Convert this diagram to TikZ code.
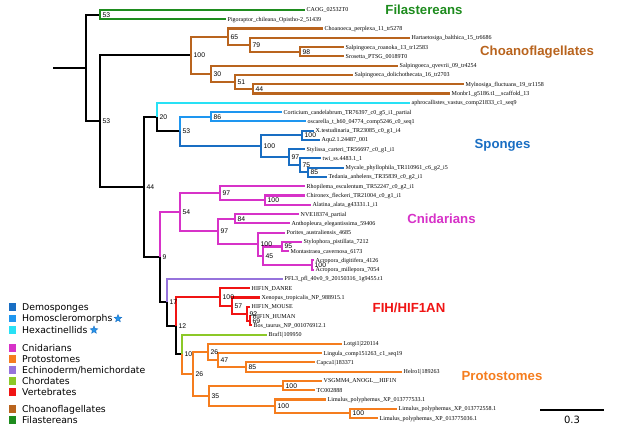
\documentclass[tikz,border=0pt]{standalone}
\usepackage{fontspec}
\setmainfont{Liberation Serif}
\newfontfamily\lsans{Liberation Sans}
\newfontfamily\dsans{DejaVu Sans}
\usetikzlibrary{shapes.geometric}
\definecolor{cFil}{RGB}{30,140,30}
\definecolor{cCho}{RGB}{185,100,30}
\definecolor{cHex}{RGB}{40,225,245}
\definecolor{cHom}{RGB}{30,150,240}
\definecolor{cDem}{RGB}{25,110,195}
\definecolor{cCni}{RGB}{215,50,200}
\definecolor{cEch}{RGB}{150,115,220}
\definecolor{cChd}{RGB}{140,200,40}
\definecolor{cVer}{RGB}{240,20,20}
\definecolor{cPro}{RGB}{245,125,30}
\definecolor{cStar}{RGB}{40,150,235}
\begin{document}
\begin{tikzpicture}[x=1pt,y=-1pt,
 br/.style={line width=2.1pt},
 tip/.style={anchor=west,inner sep=1.5pt,font=\fontsize{6}{6}\selectfont,text height=4pt,text depth=0pt},
 bslabel/.style={anchor=west,inner sep=1pt,font=\lsans\fontsize{6.8}{6.8}\selectfont,text height=4.9pt,text depth=0pt,xshift=1.5pt},
 clade/.style={font=\lsans\bfseries\fontsize{13.2}{13.2}\selectfont,inner sep=0pt,text height=9.5pt,text depth=0pt},
 lgbox/.style={minimum size=7.5pt,inner sep=0pt},
 lgtext/.style={anchor=west,inner sep=0pt,font=\dsans\fontsize{9.3}{9.3}\selectfont,text height=6.8pt,text depth=0pt},
 lgstar/.style={star,star points=5,star point ratio=2.3,minimum size=8pt,inner sep=0pt,fill=cStar,draw=cDem,line width=0.4pt},
]
\useasboundingbox (0,0) rectangle (617,436);
\fill[white] (0,0) rectangle (617,436);
% ---------- internal nodes ----------
\coordinate (rs) at (53,67.91);
\coordinate (root) at (86,67.91);
\coordinate (nF) at (100,14.64);
\coordinate (n53) at (100,121.18);
\coordinate (nC100) at (191,55.2);
\coordinate (nC65) at (228,36.66);
\coordinate (nC79) at (250,44.77);
\coordinate (nC98) at (300,51.73);
\coordinate (nC30) at (211,73.75);
\coordinate (nC51) at (235,81.86);
\coordinate (nC44) at (253,88.82);
\coordinate (n44) at (144,187.16);
\coordinate (n20) at (157,117.07);
\coordinate (nS53) at (180,131.42);
\coordinate (nS86) at (211,116.64);
\coordinate (nS100) at (261,146.19);
\coordinate (nS100b) at (302,135.18);
\coordinate (nS97) at (289,157.2);
\coordinate (nS75) at (300,165.32);
\coordinate (nS85) at (308,172.27);
\coordinate (n9) at (160,257.26);
\coordinate (nN54) at (180,212.27);
\coordinate (nN97m) at (220,193.14);
\coordinate (nN100m) at (265,200.09);
\coordinate (nN97a) at (218,231.39);
\coordinate (nN84) at (235,218.64);
\coordinate (nN100a) at (258,244.14);
\coordinate (nN45) at (263,255.73);
\coordinate (nN95) at (282,246.45);
\coordinate (nN100c) at (312,265);
\coordinate (n17) at (167,302.24);
\coordinate (n12) at (176,325.57);
\coordinate (nV100) at (220,296.88);
\coordinate (nV57) at (232,305.57);
\coordinate (nV92) at (247,313.68);
\coordinate (nV69) at (250,320.64);
\coordinate (n10) at (182,354.25);
\coordinate (nP26l) at (193,373.95);
\coordinate (nP26u) at (208,351.93);
\coordinate (nP47) at (218,360.05);
\coordinate (nP85) at (246,367);
\coordinate (nP35) at (209,395.98);
\coordinate (nP100a) at (283,385.55);
\coordinate (nP100b) at (275,406.41);
\coordinate (nP100c) at (350,413.36);
% ---------- leaves ----------
\node[tip] (l1) at (305,10.00) {CAOG\_02532T0};
\node[tip] (l2) at (226,19.27) {Pigoraptor\_chileana\_Opistho-2\_51439};
\node[tip] (l3) at (323,28.55) {Choanoeca\_perplexa\_11\_tr5278};
\node[tip] (l4) at (410,37.82) {Hartaetosiga\_balthica\_15\_tr6686};
\node[tip] (l5) at (344,47.09) {Salpingoeca\_roanoka\_13\_tr12583};
\node[tip] (l6) at (344,56.36) {Srosetta\_PTSG\_00189T0};
\node[tip] (l7) at (398,65.64) {Salpingoeca\_qvevrii\_09\_tr4254};
\node[tip] (l8) at (353,74.91) {Salpingoeca\_dolichothecata\_16\_tr2703};
\node[tip] (l9) at (464,84.18) {Mylnosiga\_fluctuans\_19\_tr1158};
\node[tip] (l10) at (450,93.45) {Monbr1\_g5186.t1\_\_scaffold\_13};
\node[tip] (l11) at (410,102.73) {aphrocallistes\_vastus\_comp21833\_c1\_seq9};
\node[tip] (l12) at (282,112.00) {Corticium\_candelabrum\_TR76397\_c0\_g5\_i1\_partial};
\node[tip] (l13) at (306,121.27) {oscarella\_t\_h60\_04774\_comp5246\_c0\_seq1};
\node[tip] (l14) at (314,130.55) {X.testudinaria\_TR23085\_c0\_g1\_i4};
\node[tip] (l15) at (320,139.82) {Aqu2.1.24487\_001};
\node[tip] (l16) at (305,149.09) {Stylissa\_carteri\_TR56697\_c0\_g1\_i1};
\node[tip] (l17) at (321,158.36) {twi\_ss.4483.1\_1};
\node[tip] (l18) at (344,167.64) {Mycale\_phyllophila\_TR110961\_c6\_g2\_i5};
\node[tip] (l19) at (327,176.91) {Tedania\_anhelens\_TR35839\_c0\_g2\_i1};
\node[tip] (l20) at (305,186.18) {Rhopilema\_esculentum\_TR52247\_c0\_g2\_i1};
\node[tip] (l21) at (305,195.45) {Chironex\_fleckeri\_TR21004\_c0\_g1\_i1};
\node[tip] (l22) at (311,204.73) {Alatina\_alata\_g43331.1\_i1};
\node[tip] (l23) at (299,214.00) {NVE18374\_partial};
\node[tip] (l24) at (290,223.27) {Anthopleura\_elegantissima\_59406};
\node[tip] (l25) at (285,232.55) {Porites\_australiensis\_4685};
\node[tip] (l26) at (302,241.82) {Stylophora\_pistillata\_7212};
\node[tip] (l27) at (289,251.09) {Montastraea\_cavernosa\_6173};
\node[tip] (l28) at (314,260.36) {Acropora\_digitifera\_4126};
\node[tip] (l29) at (314,269.64) {Acropora\_millepora\_7054};
\node[tip] (l30) at (283,278.91) {PFL3\_pfl\_40v0\_9\_20150316\_1g9455.t1};
\node[tip] (l31) at (250,288.18) {HIF1N\_DANRE};
\node[tip] (l32) at (260,297.45) {Xenopus\_tropicalis\_NP\_988915.1};
\node[tip] (l33) at (250,306.73) {HIF1N\_MOUSE};
\node[tip] (l34) at (251,316.00) {HIF1N\_HUMAN};
\node[tip] (l35) at (252,325.27) {Bos\_taurus\_NP\_001076912.1};
\node[tip] (l36) at (267,334.55) {Braf1\textbar109950};
\node[tip] (l37) at (342,343.82) {Lotgi1\textbar220114};
\node[tip] (l38) at (322,353.09) {Lingula\_comp151263\_c1\_seq19};
\node[tip] (l39) at (315,362.36) {Capca1\textbar183371};
\node[tip] (l40) at (402,371.64) {Helro1\textbar189263};
\node[tip] (l41) at (322,380.91) {VSGMM4\_ANOGL\_\_HIF1N};
\node[tip] (l42) at (315,390.18) {TC002888};
\node[tip] (l43) at (326,399.45) {Limulus\_polyphemus\_XP\_013777533.1};
\node[tip] (l44) at (397,408.73) {Limulus\_polyphemus\_XP\_013772558.1};
\node[tip] (l45) at (378,418.00) {Limulus\_polyphemus\_XP\_013775036.1};
% ---------- branches ----------
\draw[br] (rs) -- (root);
\draw[br] (root) |- (nF);
\draw[br] (root) |- (n53);
\draw[br,cFil] (nF) |- (l1.west);
\draw[br,cFil] (nF) |- (l2.west);
\draw[br] (n53) |- (nC100);
\draw[br] (n53) |- (n44);
% choanoflagellates
\draw[br,cCho] (nC100) |- (nC65);
\draw[br,cCho] (nC100) |- (nC30);
\draw[br,cCho] (nC65) |- (l3.west);
\draw[br,cCho] (nC65) |- (nC79);
\draw[br,cCho] (nC79) |- (l4.west);
\draw[br,cCho] (nC79) |- (nC98);
\draw[br,cCho] (nC98) |- (l5.west);
\draw[br,cCho] (nC98) |- (l6.west);
\draw[br,cCho] (nC30) |- (l7.west);
\draw[br,cCho] (nC30) |- (nC51);
\draw[br,cCho] (nC51) |- (l8.west);
\draw[br,cCho] (nC51) |- (nC44);
\draw[br,cCho] (nC44) |- (l9.west);
\draw[br,cCho] (nC44) |- (l10.west);
% sponges
\draw[br] (n44) |- (n20);
\draw[br] (n44) |- (n9);
\draw[br,cHex] (n20) |- (l11.west);
\draw[br] (n20) |- (nS53);
\draw[br,cHom] (nS53) |- (nS86);
\draw[br,cHom] (nS86) |- (l12.west);
\draw[br,cHom] (nS86) |- (l13.west);
\draw[br,cDem] (nS53) |- (nS100);
\draw[br,cDem] (nS100) |- (nS100b);
\draw[br,cDem] (nS100b) |- (l14.west);
\draw[br,cDem] (nS100b) |- (l15.west);
\draw[br,cDem] (nS100) |- (nS97);
\draw[br,cDem] (nS97) |- (l16.west);
\draw[br,cDem] (nS97) |- (nS75);
\draw[br,cDem] (nS75) |- (l17.west);
\draw[br,cDem] (nS75) |- (nS85);
\draw[br,cDem] (nS85) |- (l18.west);
\draw[br,cDem] (nS85) |- (l19.west);
% cnidarians
\draw[br,cCni] (n9) |- (nN54);
\draw[br] (n9) |- (n17);
\draw[br,cCni] (nN54) |- (nN97m);
\draw[br,cCni] (nN54) |- (nN97a);
\draw[br,cCni] (nN97m) |- (l20.west);
\draw[br,cCni] (nN97m) |- (nN100m);
\draw[br,cCni] (nN100m) |- (l21.west);
\draw[br,cCni] (nN100m) |- (l22.west);
\draw[br,cCni] (nN97a) |- (nN84);
\draw[br,cCni] (nN97a) |- (nN100a);
\draw[br,cCni] (nN84) |- (l23.west);
\draw[br,cCni] (nN84) |- (l24.west);
\draw[br,cCni] (nN100a) |- (l25.west);
\draw[br,cCni] (nN100a) |- (nN45);
\draw[br,cCni] (nN45) |- (nN95);
\draw[br,cCni] (nN45) |- (nN100c);
\draw[br,cCni] (nN95) |- (l26.west);
\draw[br,cCni] (nN95) |- (l27.west);
\draw[br,cCni] (nN100c) |- (l28.west);
\draw[br,cCni] (nN100c) |- (l29.west);
% bilaterians
\draw[br,cEch] (n17) |- (l30.west);
\draw[br] (n17) |- (n12);
\draw[br,cVer] (n12) |- (nV100);
\draw[br] (n12) |- (n10);
\draw[br,cVer] (nV100) |- (l31.west);
\draw[br,cVer] (nV100) |- (nV57);
\draw[br,cVer] (nV57) |- (l32.west);
\draw[br,cVer] (nV57) |- (nV92);
\draw[br,cVer] (nV92) |- (l33.west);
\draw[br,cVer] (nV92) |- (nV69);
\draw[br,cVer] (nV69) |- (l34.west);
\draw[br,cVer] (nV69) |- (l35.west);
\draw[br,cChd] (n10) |- (l36.west);
\draw[br,cPro] (n10) |- (nP26l);
\draw[br,cPro] (nP26l) |- (nP26u);
\draw[br,cPro] (nP26l) |- (nP35);
\draw[br,cPro] (nP26u) |- (l37.west);
\draw[br,cPro] (nP26u) |- (nP47);
\draw[br,cPro] (nP47) |- (l38.west);
\draw[br,cPro] (nP47) |- (nP85);
\draw[br,cPro] (nP85) |- (l39.west);
\draw[br,cPro] (nP85) |- (l40.west);
\draw[br,cPro] (nP35) |- (nP100a);
\draw[br,cPro] (nP35) |- (nP100b);
\draw[br,cPro] (nP100a) |- (l41.west);
\draw[br,cPro] (nP100a) |- (l42.west);
\draw[br,cPro] (nP100b) |- (l43.west);
\draw[br,cPro] (nP100b) |- (nP100c);
\draw[br,cPro] (nP100c) |- (l44.west);
\draw[br,cPro] (nP100c) |- (l45.west);
% ---------- support values ----------
\node[bslabel] (bF) at (nF) {53};
\node[bslabel] (b53) at (n53) {53};
\node[bslabel] (bC100) at (nC100) {100};
\node[bslabel] (bC65) at (nC65) {65};
\node[bslabel] (bC79) at (nC79) {79};
\node[bslabel] (bC98) at (nC98) {98};
\node[bslabel] (bC30) at (nC30) {30};
\node[bslabel] (bC51) at (nC51) {51};
\node[bslabel] (bC44) at (nC44) {44};
\node[bslabel] (b44) at (n44) {44};
\node[bslabel] (b20) at (n20) {20};
\node[bslabel] (bS53) at (nS53) {53};
\node[bslabel] (bS86) at (nS86) {86};
\node[bslabel] (bS100) at (nS100) {100};
\node[bslabel] (bS100b) at (nS100b) {100};
\node[bslabel] (bS97) at (nS97) {97};
\node[bslabel] (bS75) at (nS75) {75};
\node[bslabel] (bS85) at (nS85) {85};
\node[bslabel] (b9) at (n9) {9};
\node[bslabel] (bN54) at (nN54) {54};
\node[bslabel] (bN97m) at (nN97m) {97};
\node[bslabel] (bN100m) at (nN100m) {100};
\node[bslabel] (bN97a) at (nN97a) {97};
\node[bslabel] (bN84) at (nN84) {84};
\node[bslabel] (bN100a) at (nN100a) {100};
\node[bslabel] (bN45) at (nN45) {45};
\node[bslabel] (bN95) at (nN95) {95};
\node[bslabel] (bN100c) at (nN100c) {100};
\node[bslabel] (b17) at (n17) {17};
\node[bslabel] (b12) at (n12) {12};
\node[bslabel] (bV100) at (nV100) {100};
\node[bslabel] (bV57) at (nV57) {57};
\node[bslabel] (bV92) at (nV92) {92};
\node[bslabel] (bV69) at (nV69) {69};
\node[bslabel] (b10) at (n10) {10};
\node[bslabel] (bP26l) at (nP26l) {26};
\node[bslabel] (bP26u) at (nP26u) {26};
\node[bslabel] (bP47) at (nP47) {47};
\node[bslabel] (bP85) at (nP85) {85};
\node[bslabel] (bP35) at (nP35) {35};
\node[bslabel] (bP100a) at (nP100a) {100};
\node[bslabel] (bP100b) at (nP100b) {100};
\node[bslabel] (bP100c) at (nP100c) {100};
% ---------- clade names ----------
\node[clade,text=cFil] (tFil) at (424,10) {Filastereans};
\node[clade,text=cCho] (tCho) at (537,51) {Choanoflagellates};
\node[clade,text=cDem] (tSpo) at (502.5,144) {Sponges};
\node[clade,text=cCni] (tCni) at (441.5,219) {Cnidarians};
\node[clade,text=cVer] (tFih) at (409,308) {FIH/HIF1AN};
\node[clade,text=cPro] (tPro) at (502,376) {Protostomes};
% ---------- scale bar ----------
\coordinate (sb1) at (540,410);
\coordinate (sb2) at (604,410);
\draw[line width=1.8pt] (sb1) -- (sb2);
\node[font=\dsans\fontsize{10}{10}\selectfont,inner sep=0pt,text height=7.3pt,text depth=0pt] (sbt) at (572,419.5) {0.3};
% ---------- legend ----------
\node[lgbox,fill=cDem] (q1) at (12.5,307) {};
\node[lgtext] (t1) at (22,307) {Demosponges};
\node[lgbox,fill=cHom] (q2) at (12.5,318.5) {};
\node[lgtext] (t2) at (22,318.5) {Homoscleromorphs};
\node[lgstar] (s2) at (118,318.5) {};
\node[lgbox,fill=cHex] (q3) at (12.5,330) {};
\node[lgtext] (t3) at (22,330) {Hexactinellids};
\node[lgstar] (s3) at (94,330) {};
\node[lgbox,fill=cCni] (q4) at (12.5,348) {};
\node[lgtext] (t4) at (22,348) {Cnidarians};
\node[lgbox,fill=cPro] (q5) at (12.5,359) {};
\node[lgtext] (t5) at (22,359) {Protostomes};
\node[lgbox,fill=cEch] (q6) at (12.5,370) {};
\node[lgtext] (t6) at (22,370) {Echinoderm/hemichordate};
\node[lgbox,fill=cChd] (q7) at (12.5,381) {};
\node[lgtext] (t7) at (22,381) {Chordates};
\node[lgbox,fill=cVer] (q8) at (12.5,392) {};
\node[lgtext] (t8) at (22,392) {Vertebrates};
\node[lgbox,fill=cCho] (q9) at (12.5,409) {};
\node[lgtext] (t9) at (22,409) {Choanoflagellates};
\node[lgbox,fill=cFil] (q10) at (12.5,420) {};
\node[lgtext] (t10) at (22,420) {Filastereans};
\end{tikzpicture}
\end{document}
